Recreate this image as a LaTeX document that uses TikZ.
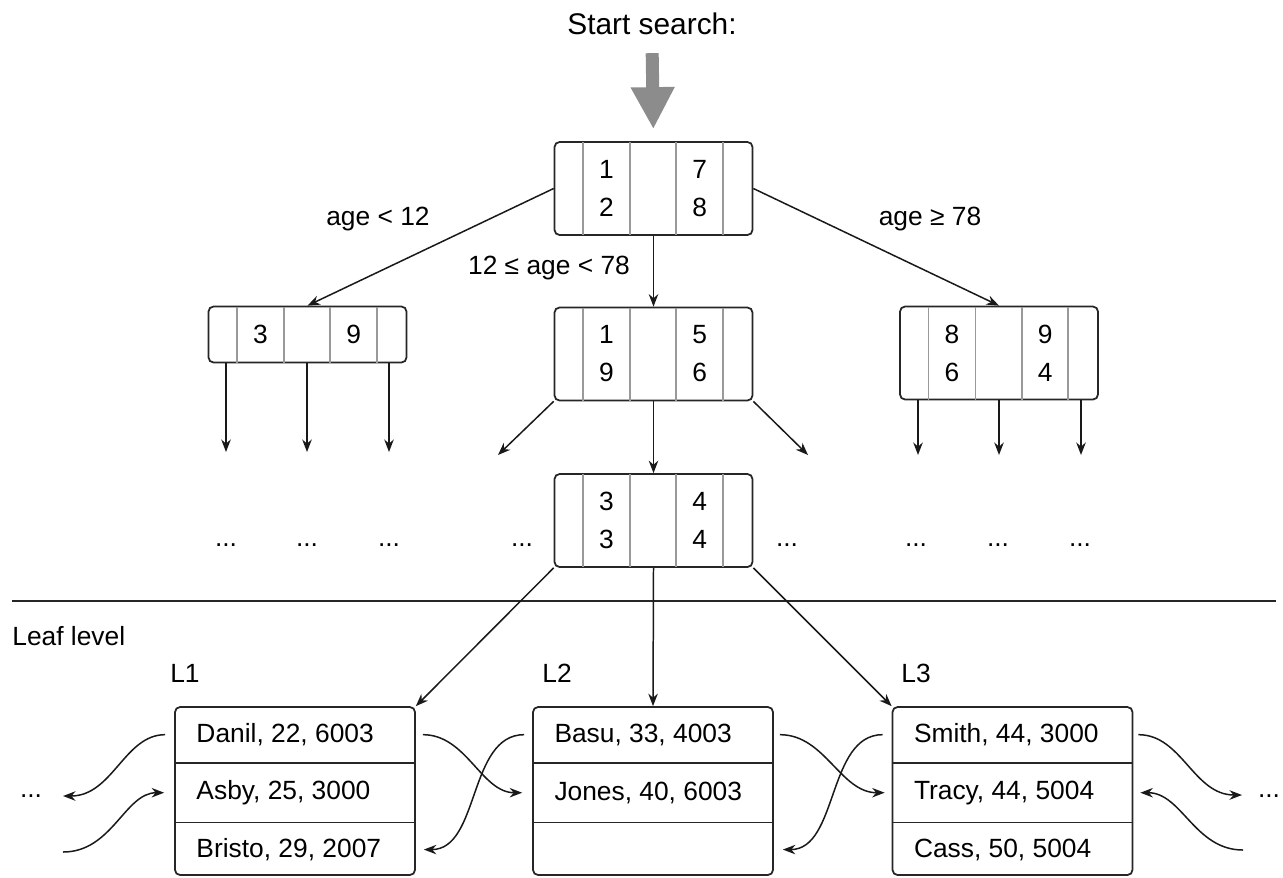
\documentclass[tikz,border=0pt]{standalone}
\usepackage{fontspec}
\setmainfont{Liberation Sans}
\usetikzlibrary{positioning,arrows.meta,calc}

% inner B-tree node: five pointer cells, two key columns
\newcommand{\keynode}[5][]{%
  \node[keybox, #1] (#2) at #3 {};
  \foreach \f in {0.147,0.382,0.614,0.847}
    \draw[divider] ($(#2.north west)!\f!(#2.north east)$) -- ($(#2.south west)!\f!(#2.south east)$);
  \node[keytext] (#2-l) at ($(#2.west)!0.264!(#2.east)$) {#4};
  \node[keytext] (#2-r) at ($(#2.west)!0.731!(#2.east)$) {#5};
}

% leaf page with three record slots
\newcommand{\leafnode}[5]{%
  \node[leafbox] (#1) at #2 {};
  \draw[rowline] ($(#1.north west)!0.335!(#1.south west)$) -- ($(#1.north east)!0.335!(#1.south east)$);
  \draw[rowline] ($(#1.north west)!0.685!(#1.south west)$) -- ($(#1.north east)!0.685!(#1.south east)$);
  \node[rowtext] (#1a) at ($(#1.north west)!0.168!(#1.south west)$) {#3};
  \node[rowtext] (#1b) at ($(#1.north west)!0.51!(#1.south west)$) {#4};
  \node[rowtext] (#1c) at ($(#1.north west)!0.845!(#1.south west)$) {#5};
}

\begin{document}
\begin{tikzpicture}[
  x=0.02cm, y=-0.02cm,
  font=\fontsize{15}{21.6}\selectfont,
  >={Stealth[length=0.25cm, width=0.19cm]},
  keybox/.style={draw=black!85, rounded corners=0.1cm, line width=1pt, minimum width=3.96cm, minimum height=1.86cm, inner sep=0pt},
  keytext/.style={align=center, inner sep=0pt},
  divider/.style={draw=black!40, line width=1pt, shorten <=0.5pt, shorten >=0.5pt},
  leafbox/.style={draw=black!85, rounded corners=0.1cm, line width=1pt, minimum width=4.8cm, minimum height=3.36cm, inner sep=0pt},
  rowline/.style={draw=black!85, line width=1pt},
  rowtext/.style={anchor=west, inner sep=0pt, xshift=0.44cm},
  arr/.style={->, line width=0.85pt, black!90},
  bigarrow/.style={-{Triangle[length=0.84cm, width=0.82cm]}, line width=0.26cm, draw=black!45},
  dots/.style={inner sep=0pt},
]
\useasboundingbox (0,0) rectangle (1283,877);

% entry point
\node[font=\fontsize{17}{20}\selectfont] (start) at (652,24) {Start search:};

% index levels
\keynode{root}{(653.5,188.5)}{1\\2}{7\\8}
\keynode[minimum height=1.12cm]{lowk}{(307.5,334.5)}{3}{9}
\keynode{midk}{(653.5,354)}{1\\9}{5\\6}
\keynode{highk}{(999,353)}{8\\6}{9\\4}
\keynode{inner}{(653.5,520.5)}{3\\3}{4\\4}

\draw[bigarrow, shorten <=0.24cm, shorten >=0.24cm] (start.south) -- (root.north);

% branch labels
\node (ltlow) at (378,219) {age < 12};
\node (ltmid) at (549,268) {12 ≤ age < 78};
\node (gehigh) at (930,219) {age ≥ 78};

\draw[arr] (root.west) -- (lowk.north);
\draw[arr] (root.south) -- (midk.north);
\draw[arr] (root.east) -- (highk.north);

% subtrees that are not expanded
\coordinate (lowA) at (226,452);
\coordinate (lowB) at (307,452);
\coordinate (lowC) at (389,452);
\coordinate (highA) at (918,455);
\coordinate (highB) at (999,455);
\coordinate (highC) at (1081,455);
\coordinate (midA) at (498,455);
\coordinate (midC) at (808,455);

\draw[arr] (lowk.south -| lowA) -- (lowA);
\draw[arr] (lowk.south -| lowB) -- (lowB);
\draw[arr] (lowk.south -| lowC) -- (lowC);
\draw[arr] (highk.south -| highA) -- (highA);
\draw[arr] (highk.south -| highB) -- (highB);
\draw[arr] (highk.south -| highC) -- (highC);
\draw[arr] (midk.south west) -- (midA);
\draw[arr] (midk.south) -- (inner.north);
\draw[arr] (midk.south east) -- (midC);

\foreach \x/\n in {226/1,307/2,389/3,522/4,787/5,916/6,998/7,1080/8}
  \node[dots] (skip\n) at (\x,545) {...};

% leaf level
\coordinate (ruleL) at (12,601);
\coordinate (ruleR) at (1276,601);
\draw[line width=0.9pt, black!85] (ruleL) -- (ruleR);
\node[anchor=west, inner sep=0pt] (leaflevel) at (12,636) {Leaf level};

\node (tagA) at (185,673) {L1};
\node (tagB) at (557,673) {L2};
\node (tagC) at (916,673) {L3};

\leafnode{l1}{(295,791)}{Danil, 22, 6003}{Asby, 25, 3000}{Bristo, 29, 2007}
\leafnode{l2}{(653,791)}{Basu, 33, 4003}{Jones, 40, 6003}{}
\leafnode{l3}{(1012.5,791)}{Smith, 44, 3000}{Tracy, 44, 5004}{Cass, 50, 5004}

\draw[arr] (inner.south west) -- (l1.north east);
\draw[arr] (inner.south) -- (l2.north);
\draw[arr] (inner.south east) -- (l3.north west);

% sibling links between leaves
\coordinate (outL) at (63,796);
\coordinate (inL) at (63,852);
\coordinate (outR) at (1242,795);
\coordinate (inR) at (1243,850);
\node[dots] (moreL) at (31,796) {...};
\node[dots] (moreR) at (1269,796) {...};

\draw[arr, shorten <=0.18cm] (l1.west |- l1a.west) to[out=180, in=0] (outL);
\draw[arr, shorten >=0.2cm] (inL) to[out=0, in=180] (l1.west |- l1b.west);
\draw[arr, shorten <=0.14cm, shorten >=0.2cm] (l1.east |- l1a.west) to[out=0, in=180] (l2.west |- l2b.west);
\draw[arr, shorten <=0.16cm, shorten >=0.16cm] (l2.west |- l2a.west) to[out=180, in=0] (l1.east |- l1c.west);
\draw[arr, shorten <=0.12cm, shorten >=0.14cm] (l2.east |- l2a.west) to[out=0, in=180] (l3.west |- l3b.west);
\draw[arr, shorten <=0.18cm, shorten >=0.18cm] (l3.west |- l3a.west) to[out=180, in=0] (l2.east |- l2c.west);
\draw[arr, shorten <=0.1cm] (l3.east |- l3a.west) to[out=0, in=180] (outR);
\draw[arr, shorten >=0.14cm] (inR) to[out=180, in=0] (l3.east |- l3b.west);

\end{tikzpicture}
\end{document}
